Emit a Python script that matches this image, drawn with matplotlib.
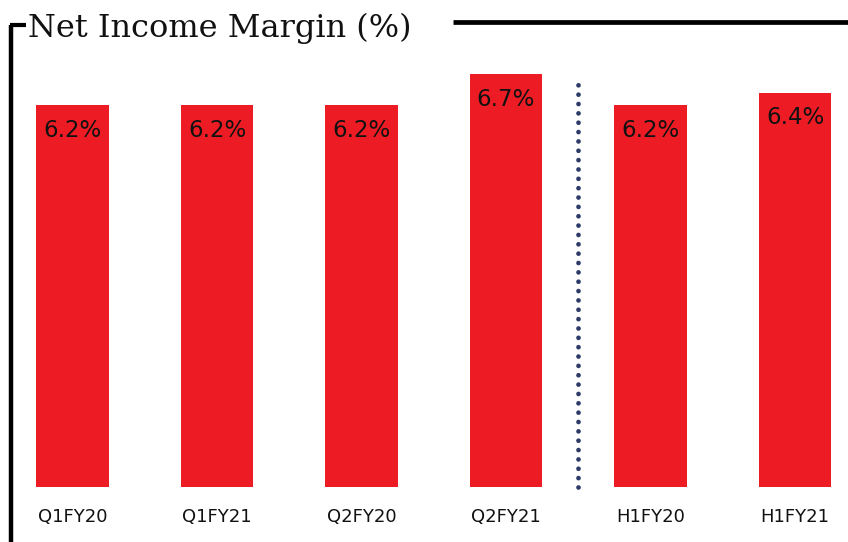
import matplotlib
matplotlib.use("Agg")
import matplotlib.pyplot as plt
from matplotlib.lines import Line2D

categories = ["Q1FY20", "Q1FY21", "Q2FY20", "Q2FY21", "H1FY20", "H1FY21"]
margins = [6.2, 6.2, 6.2, 6.7, 6.2, 6.4]
value_labels = ["6.2%", "6.2%", "6.2%", "6.7%", "6.2%", "6.4%"]

W, H, DPI = 848, 542, 100
fig = plt.figure(figsize=(W / DPI, H / DPI), dpi=DPI)
fig.patch.set_facecolor("white")

# Plot area: baseline at y=487px, ~61.6 px per percentage point
base_px = 487
ax = fig.add_axes([0, (H - base_px) / H, 1, base_px / H])
x = list(range(len(categories)))
ax.bar(x, margins, width=0.5, color="#ED1C24", zorder=2)
ax.set_xlim(-72.5 / 144.5, (W - 72.5) / 144.5)
ax.set_ylim(0, base_px / 61.6)

for xi, v, lab in zip(x, margins, value_labels):
    ax.annotate(lab, (xi, v), xytext=(0, -18), textcoords="offset points",
                ha="center", va="center", fontsize=16.5, color="#111111",
                family="DejaVu Sans", zorder=3)

ax.set_xticks(x)
ax.set_xticklabels(categories, fontsize=13, family="DejaVu Sans", color="#111111")
ax.tick_params(axis="x", length=0, pad=15)
ax.tick_params(axis="y", left=False, labelleft=False)
for s in ax.spines.values():
    s.set_visible(False)
ax.patch.set_alpha(0)

# Dotted divider between quarterly and half-year bars
div = ax.plot([3.5, 3.5], [0, (base_px - 79) / 61.6], color="#2B3A67",
              linewidth=3.4, solid_capstyle="round", dash_capstyle="round",
              clip_on=False, zorder=3)[0]
div.set_dashes((0.01, 6.7 / 3.4))

# Frame lines in figure coordinates
def fx(px):
    return px / W

def fy(py):
    return 1 - py / H

fig.add_artist(Line2D([fx(11), fx(11)], [fy(24.5), fy(H + 2)], color="black", linewidth=3.2,
                      solid_capstyle="butt"))
fig.add_artist(Line2D([fx(9.5), fx(26)], [fy(25), fy(25)], color="black", linewidth=3.0,
                      solid_capstyle="butt"))
fig.add_artist(Line2D([fx(453), fx(W + 2)], [fy(21.5), fy(21.5)], color="black", linewidth=3.4,
                      solid_capstyle="butt"))

fig.text(fx(28), fy(37), "Net Income Margin (%)", fontsize=23, family="DejaVu Serif",
         ha="left", va="baseline", color="#111111")

fig.savefig("out.png", dpi=DPI, facecolor="white")
